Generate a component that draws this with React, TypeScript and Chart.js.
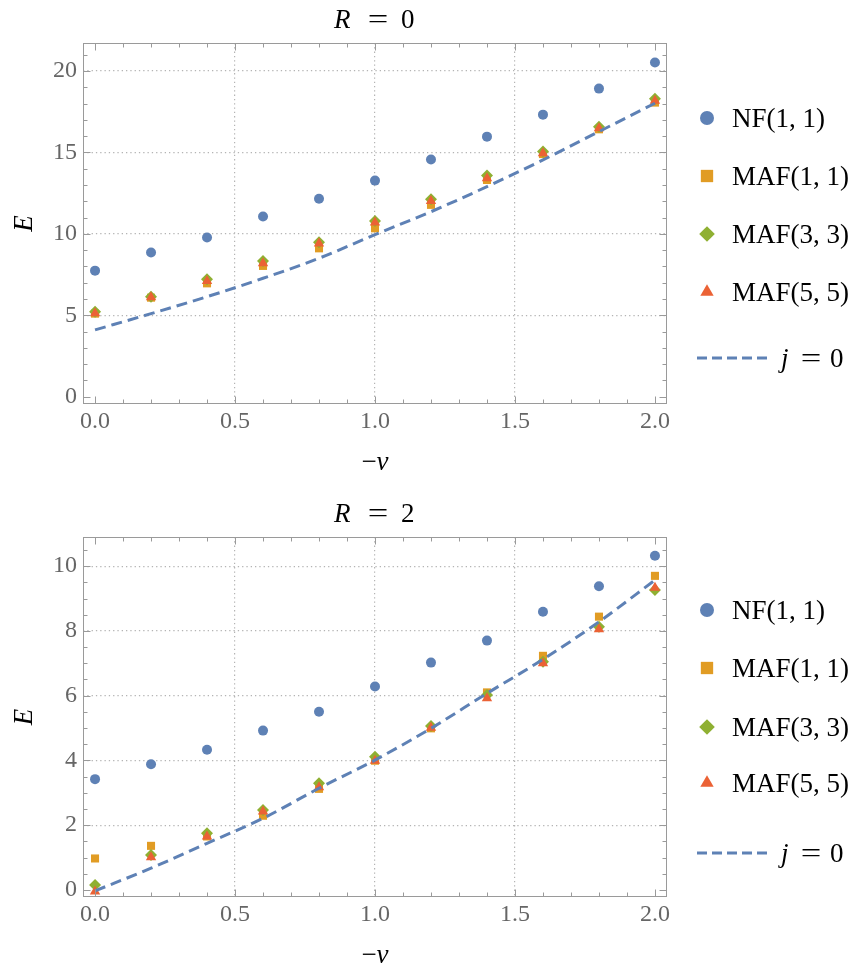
import React, { useEffect, useRef } from "react";
import { Chart, registerables } from "chart.js";

Chart.register(...registerables);

// ---------- data ----------
const nuValues = [0, 0.2, 0.4, 0.6, 0.8, 1.0, 1.2, 1.4, 1.6, 1.8, 2.0];

// R = 0
const nf_R0 = [7.74, 8.85, 9.77, 11.06, 12.16, 13.27, 14.56, 15.97, 17.32, 18.92, 20.52];
const maf11_R0 = [5.1, 6.08, 6.96, 8.03, 9.11, 10.34, 11.78, 13.31, 14.9, 16.42, 18.06];
const maf33_R0 = [5.22, 6.14, 7.21, 8.33, 9.48, 10.79, 12.12, 13.58, 15.05, 16.58, 18.3];
const maf55_R0 = [5.12, 6.1, 7.1, 8.2, 9.4, 10.7, 12.02, 13.42, 14.95, 16.49, 18.18];
const j0_R0 = [4.1, 5.1, 6.14, 7.27, 8.5, 9.95, 11.36, 12.9, 14.54, 16.28, 18.02];

// R = 2
const nf_R2 = [3.42, 3.88, 4.33, 4.92, 5.5, 6.28, 7.02, 7.7, 8.59, 9.38, 10.32];
const maf11_R2 = [0.97, 1.36, 1.65, 2.29, 3.12, 3.99, 4.99, 6.1, 7.23, 8.44, 9.7];
const maf33_R2 = [0.15, 1.08, 1.75, 2.47, 3.29, 4.11, 5.06, 6.02, 7.05, 8.13, 9.26];
const maf55_R2 = [-0.05, 1.01, 1.65, 2.42, 3.17, 3.99, 5.01, 5.92, 7.0, 8.05, 9.33];
const j0_R2 = [-0.03, 0.67, 1.44, 2.21, 3.14, 4.01, 4.99, 6.07, 7.12, 8.28, 9.57];

const xMajorTicks = [0, 0.5, 1.0, 1.5, 2.0];
const yMajorTicks_R0 = [0, 5, 10, 15, 20];
const yMajorTicks_R2 = [0, 2, 4, 6, 8, 10];

const seriesLabels = ["NF(1, 1)", "MAF(1, 1)", "MAF(3, 3)", "MAF(5, 5)"];
const lineLabel = "j = 0";

// ---------- styles ----------
const COLORS = ["#5E81B5", "#E19C24", "#8FB032", "#EB6235"];
const LINE_COLOR = "#5E81B5";
const FONT = '"Liberation Serif", "DejaVu Serif", serif';
const FRAME = "#9a9a9a";
const TICKLABEL = "#666666";

function pts(ys: number[]) {
  return nuValues.map((x, i) => ({ x, y: ys[i] }));
}

function drawMarker(ctx: CanvasRenderingContext2D, kind: number, cx: number, cy: number, s: number) {
  ctx.beginPath();
  if (kind === 0) {
    ctx.arc(cx, cy, s, 0, Math.PI * 2);
  } else if (kind === 1) {
    const h = s * 0.88;
    ctx.rect(cx - h, cy - h, 2 * h, 2 * h);
  } else if (kind === 2) {
    const d = s * 1.12;
    ctx.moveTo(cx - d, cy);
    ctx.lineTo(cx, cy - d);
    ctx.lineTo(cx + d, cy);
    ctx.lineTo(cx, cy + d);
    ctx.closePath();
  } else {
    const r = s * 1.1;
    ctx.moveTo(cx, cy - r);
    ctx.lineTo(cx + r * Math.sin((2 * Math.PI) / 3), cy + r * 0.5);
    ctx.lineTo(cx - r * Math.sin((2 * Math.PI) / 3), cy + r * 0.5);
    ctx.closePath();
  }
  ctx.fill();
}

// draws "a = b" in TeX-like spacing: italic lhs left-aligned at x0, "=" centred at xe, rhs left at x1
function drawEq(ctx: CanvasRenderingContext2D, lhs: string, rhs: string, x0: number, xe: number, x1: number, y: number) {
  const fItal = `italic 27px ${FONT}`;
  const fReg = `27px ${FONT}`;
  ctx.textAlign = "left";
  ctx.font = fItal;
  ctx.fillText(lhs, x0, y);
  ctx.font = fReg;
  ctx.textAlign = "center";
  ctx.save();
  ctx.translate(xe, y);
  ctx.scale(1.35, 1);
  ctx.fillText("=", 0, 0);
  ctx.restore();
  ctx.textAlign = "left";
  ctx.fillText(rhs, x1, y);
}

type Cfg = {
  titleVar: string;
  titleVal: string;
  titleBaseline: number;
  xMinorStep: number;
  yMinorStep: number;
  yMax: number;
  yMajor: number[];
  legendOffsets: number[];
};

function decorPlugin(cfg: Cfg) {
  return {
    id: "decor",
    afterDraw(chart: any) {
      const { ctx, chartArea: a, scales } = chart;
      const xs = scales.x;
      const ys = scales.y;
      ctx.save();
      // frame
      const L = Math.round(a.left) + 0.5;
      const R = Math.round(a.right) - 0.5;
      const T = Math.round(a.top) + 0.5;
      const B = Math.round(a.bottom) - 0.5;
      ctx.strokeStyle = FRAME;
      ctx.lineWidth = 1;
      ctx.setLineDash([]);
      ctx.strokeRect(L, T, R - L, B - T);
      // x ticks (bottom and top, inward)
      ctx.beginPath();
      const nx = Math.round(2 / cfg.xMinorStep);
      for (let i = 0; i <= nx; i++) {
        const v = i * cfg.xMinorStep;
        const major = xMajorTicks.some((m) => Math.abs(m - v) < 1e-6);
        const len = major ? 7 : 4;
        const px = Math.round(xs.getPixelForValue(v)) + 0.5;
        ctx.moveTo(px, B);
        ctx.lineTo(px, B - len);
        ctx.moveTo(px, T);
        ctx.lineTo(px, T + len);
      }
      // y ticks (left and right, inward)
      const ny = Math.round(cfg.yMax / cfg.yMinorStep);
      for (let i = 0; i <= ny; i++) {
        const v = i * cfg.yMinorStep;
        const major = cfg.yMajor.some((m) => Math.abs(m - v) < 1e-6);
        const len = major ? 7 : 4;
        const py = Math.round(ys.getPixelForValue(v)) + 0.5;
        if (py < a.top || py > a.bottom) continue;
        ctx.moveTo(L, py);
        ctx.lineTo(L + len, py);
        ctx.moveTo(R, py);
        ctx.lineTo(R - len, py);
      }
      ctx.stroke();

      const cx = (a.left + a.right) / 2;
      const fItal = `italic 27px ${FONT}`;
      const fReg = `27px ${FONT}`;
      // title
      ctx.fillStyle = "#000";
      ctx.textBaseline = "alphabetic";
      drawEq(ctx, cfg.titleVar, cfg.titleVal, cx - 41, cx + 3, cx + 26, cfg.titleBaseline);

      // x label "−ν"
      ctx.textAlign = "left";
      ctx.font = fReg;
      const wm = ctx.measureText("\u2212").width;
      ctx.font = fItal;
      const wn = ctx.measureText("\u03BD").width;
      const sx = cx - (wm + wn) / 2;
      ctx.font = fReg;
      ctx.fillText("\u2212", sx, a.bottom + 66);
      ctx.font = fItal;
      ctx.fillText("\u03BD", sx + wm, a.bottom + 66);

      // y label "E"
      ctx.save();
      ctx.translate(32, (a.top + a.bottom) / 2);
      ctx.rotate(-Math.PI / 2);
      ctx.textAlign = "center";
      ctx.font = fItal;
      ctx.fillText("E", 0, 0);
      ctx.restore();

      // legend
      const mx = 707;
      const tx = 732;
      ctx.textAlign = "left";
      for (let i = 0; i < 4; i++) {
        const cy = a.top + cfg.legendOffsets[i];
        ctx.fillStyle = COLORS[i];
        drawMarker(ctx, i, mx, cy, 7);
        ctx.fillStyle = "#000";
        ctx.font = fReg;
        ctx.textAlign = "left";
        ctx.fillText(seriesLabels[i], tx, cy + 9);
      }
      const cyl = a.top + cfg.legendOffsets[4];
      ctx.strokeStyle = LINE_COLOR;
      ctx.lineWidth = 3;
      ctx.setLineDash([10, 5]);
      ctx.beginPath();
      ctx.moveTo(697, cyl);
      ctx.lineTo(768, cyl);
      ctx.stroke();
      ctx.setLineDash([]);
      ctx.fillStyle = "#000";
      const parts = lineLabel.split(" ");
      drawEq(ctx, parts[0], parts[2], 781, 811, 830, cyl + 9);
      ctx.restore();
    },
  };
}

function makeChart(
  canvas: HTMLCanvasElement,
  data: number[][],
  yMin: number,
  yMax: number,
  topPad: number,
  xAxisH: number,
  cfg: Cfg
) {
  const [nf, m11, m33, m55, j0] = data;
  const yMajor = cfg.yMajor;
  const chart: any = new Chart(canvas, {
    type: "scatter",
    data: {
      datasets: [
        {
          label: seriesLabels[0],
          data: pts(nf),
          pointStyle: "circle",
          pointRadius: 5,
          backgroundColor: COLORS[0],
          borderWidth: 0,
          order: 4,
        },
        {
          label: seriesLabels[1],
          data: pts(m11),
          pointStyle: "rect",
          pointRadius: 5.7,
          backgroundColor: COLORS[1],
          borderWidth: 0,
          order: 3,
        },
        {
          label: seriesLabels[2],
          data: pts(m33),
          pointStyle: "rectRot",
          pointRadius: 6,
          backgroundColor: COLORS[2],
          borderWidth: 0,
          order: 2,
        },
        {
          label: seriesLabels[3],
          data: pts(m55),
          pointStyle: "triangle",
          pointRadius: 6,
          backgroundColor: COLORS[3],
          borderWidth: 0,
          order: 1,
        },
        {
          label: lineLabel,
          data: pts(j0),
          showLine: true,
          pointRadius: 0,
          borderColor: LINE_COLOR,
          borderWidth: 3,
          borderDash: [11, 6],
          cubicInterpolationMode: "monotone",
          fill: false,
          order: 0,
        } as any,
      ],
    },
    options: {
      animation: false,
      responsive: false,
      devicePixelRatio: 1,
      layout: { padding: { left: 0, right: 189, top: topPad, bottom: 0 } },
      plugins: {
        legend: { display: false },
        tooltip: { enabled: false },
        title: { display: false },
      },
      scales: {
        x: {
          type: "linear",
          min: -0.043,
          max: 2.043,
          afterBuildTicks: (s: any) => {
            s.ticks = xMajorTicks.map((v) => ({ value: v }));
          },
          afterFit: (s: any) => {
            s.height = xAxisH;
          },
          grid: {
            drawTicks: false,
            lineWidth: 1.2,
            color: (c: any) =>
              c.tick && (Math.abs(c.tick.value) < 1e-6 || Math.abs(c.tick.value - 2) < 1e-6)
                ? "rgba(0,0,0,0)"
                : "#b4b4b4",
          },
          border: { display: false, dash: [1.3, 3] },
          ticks: {
            padding: 3,
            color: TICKLABEL,
            font: { family: FONT, size: 24 },
            maxRotation: 0,
            autoSkip: false,
            callback: (v: any) => Number(v).toFixed(1),
          },
        },
        y: {
          type: "linear",
          min: yMin,
          max: yMax,
          afterBuildTicks: (s: any) => {
            s.ticks = yMajor.map((v) => ({ value: v }));
          },
          afterFit: (s: any) => {
            s.width = 83;
          },
          grid: {
            drawTicks: false,
            lineWidth: 1.2,
            color: (c: any) =>
              c.tick && Math.abs(c.tick.value) < 1e-6 ? "rgba(0,0,0,0)" : "#b4b4b4",
          },
          border: { display: false, dash: [1.3, 3] },
          ticks: {
            padding: 6,
            color: TICKLABEL,
            font: { family: FONT, size: 24 },
            autoSkip: false,
            callback: (v: any) => String(Math.round(Number(v))),
          },
        },
      },
    } as any,
    plugins: [decorPlugin(cfg)],
  });
  return chart;
}

export default function App() {
  const topRef = useRef<HTMLCanvasElement>(null);
  const botRef = useRef<HTMLCanvasElement>(null);

  useEffect(() => {
    const c1 = makeChart(
      topRef.current!,
      [nf_R0, maf11_R0, maf33_R0, maf55_R0, j0_R0],
      -0.45,
      21.72,
      43,
      80,
      {
        titleVar: "R",
        titleVal: "0",
        titleBaseline: 28,
        xMinorStep: 0.1,
        yMinorStep: 1,
        yMax: 21.72,
        yMajor: yMajorTicks_R0,
        legendOffsets: [75, 133, 191, 249, 315],
      }
    );
    const c2 = makeChart(
      botRef.current!,
      [nf_R2, maf11_R2, maf33_R2, maf55_R2, j0_R2],
      -0.22,
      10.9,
      53,
      71,
      {
        titleVar: "R",
        titleVal: "2",
        titleBaseline: 38,
        xMinorStep: 0.1,
        yMinorStep: 0.5,
        yMax: 10.9,
        yMajor: yMajorTicks_R2,
        legendOffsets: [73, 131, 190, 246, 316],
      }
    );
    return () => {
      c1.destroy();
      c2.destroy();
    };
  }, []);

  return (
    <div style={{ position: "absolute", left: 0, top: 0, width: 856, height: 968, background: "#fff" }}>
      <canvas ref={topRef} width={856} height={484} style={{ position: "absolute", left: 0, top: 0, display: "block" }} />
      <canvas ref={botRef} width={856} height={484} style={{ position: "absolute", left: 0, top: 484, display: "block" }} />
    </div>
  );
}
